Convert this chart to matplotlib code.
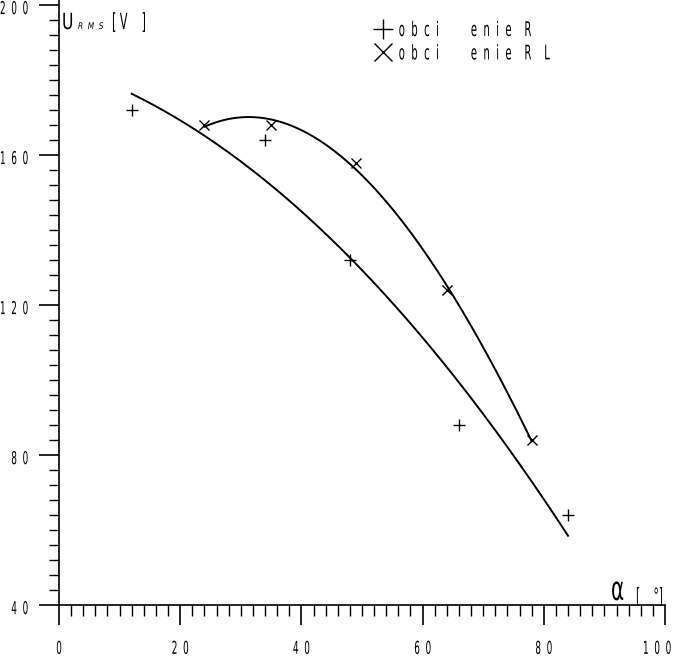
import numpy as np
import matplotlib
matplotlib.use("Agg")
import matplotlib.pyplot as plt
from matplotlib.ticker import FixedLocator, FixedFormatter, MultipleLocator
from matplotlib.patheffects import AbstractPathEffect
from matplotlib.transforms import Affine2D

plt.rcParams['font.family'] = ['DejaVu Sans']

# data
alpha_R = [12, 34, 48, 66, 84]
U_R = [172, 164, 132, 88, 64]
alpha_RL = [24, 35, 49, 64, 78]
U_RL = [168, 168, 158, 124, 84]

xticks = [0, 20, 40, 60, 80, 100]
xtick_labels = ["0", "2  0", "4  0", "6  0", "8  0", "1  0  0"]
yticks = [40, 80, 120, 160, 200]
ytick_labels = ["    4  0", "    8  0", "1  2  0", "1  6  0", "2  0  0"]
label_R = "o  b  c  i          e  n  i  e    R"
label_RL = "o  b  c  i          e  n  i  e    R    L"


class Squeeze(AbstractPathEffect):
    """Draw text condensed horizontally / stretched vertically (plotter-like font)."""
    def __init__(self, sx=1.0, sy=1.0, anchor=None, dx=0.0, dy=0.0, x_target=None):
        super().__init__()
        self.sx, self.sy, self.anchor = sx, sy, anchor
        self.dx, self.dy, self.x_target = dx, dy, x_target

    def draw_path(self, renderer, gc, tpath, affine, rgbFace=None):
        ox, oy = affine.transform(np.array([[0.0, 0.0]]))[0]
        if self.anchor is None:
            x0 = ox
        else:
            ext = tpath.get_extents(affine)
            x0 = ext.x0 + self.anchor * ext.width
        xt = x0 + self.dx if self.x_target is None else self.x_target
        t = affine + Affine2D().translate(-x0, -oy).scale(self.sx, self.sy).translate(xt, oy + self.dy)
        renderer.draw_path(gc, tpath, t, rgbFace)


W, H = 673, 661
fig = plt.figure(figsize=(W / 100, H / 100), dpi=100)
ax = fig.add_axes([59 / W, (H - 605) / H, 606 / W, 605 / H])
ax.set_xlim(0, 100)
ax.set_ylim(40, 40 + 605 / 3.75)

# fitted curves
p_R = np.polyfit(alpha_R, U_R, 2)
xs = np.linspace(min(alpha_R), max(alpha_R), 200)
ax.plot(xs, np.polyval(p_R, xs), color="black", lw=1.4)
p_RL = np.polyfit(alpha_RL, U_RL, 3)
xs2 = np.linspace(min(alpha_RL), max(alpha_RL), 200)
ax.plot(xs2, np.polyval(p_RL, xs2), color="black", lw=1.4)

hR, = ax.plot(alpha_R, U_R, linestyle="none", marker="+", ms=8, mew=1.0, color="black")
hRL, = ax.plot(alpha_RL, U_RL, linestyle="none", marker="x", ms=7.5, mew=1.0, color="black")

for s in ["top", "right"]:
    ax.spines[s].set_visible(False)
for s in ["left", "bottom"]:
    ax.spines[s].set_linewidth(1.2)

TFS = 8          # tick label font size (drawn stretched)
TSY = 1.6
TSX = 0.5 * TSY

ax.xaxis.set_major_locator(FixedLocator(xticks))
ax.xaxis.set_major_formatter(FixedFormatter(xtick_labels))
ax.xaxis.set_minor_locator(MultipleLocator(2))
ax.yaxis.set_major_locator(FixedLocator(yticks))
ax.yaxis.set_major_formatter(FixedFormatter(ytick_labels))
ax.yaxis.set_minor_locator(MultipleLocator(4))
ax.tick_params(axis="x", which="major", direction="out", length=14.4, width=1.2, pad=15, labelsize=TFS)
ax.tick_params(axis="x", which="minor", direction="out", length=7.6, width=1.0)
ax.tick_params(axis="y", which="major", direction="out", length=14.4, width=1.2, pad=28.1, labelsize=TFS)
ax.tick_params(axis="y", which="minor", direction="out", length=7.2, width=1.0)

xt = ax.xaxis.get_major_ticks()
for i, t in enumerate(xt):
    if i == len(xt) - 1:
        t.label1.set_ha("right")
        t.label1.set_path_effects([Squeeze(TSX, TSY, None, x_target=643)])
    else:
        t.label1.set_path_effects([Squeeze(TSX, TSY, 0.5)])
for t in ax.yaxis.get_major_ticks():
    t.label1.set_ha("left")
    t.label1.set_va("top")
    t.label1.set_path_effects([Squeeze(TSX, TSY, None, dy=-1.1)])


def ftext(px, py, s, size, sx, sy=1.0, **kw):
    return fig.text(px / W, 1 - py / H, s, fontsize=size, ha="left", va="baseline",
                    path_effects=[Squeeze(sx, sy, None)], **kw)


# axis titles
ftext(62, 29, "U", 16, 0.7)
ftext(78, 29, "R  M  S", 6.6, 0.8, style="italic")
ftext(112, 29, "[ V    ]", 8, 0.5 * 2, 2.0)
ftext(611, 600, "α", 24, 0.6)
ftext(636, 603, "[    °]", 8, 0.5 * 1.9, 1.9)

LFS = 11
LSY = 14.5 / LFS
leg = ax.legend([hR, hRL], [label_R, label_RL], loc="upper left",
                bbox_to_anchor=(372 / W, 1 - 22 / H), bbox_transform=fig.transFigure,
                frameon=False, markerscale=1.8, handlelength=1.45, handletextpad=0.3,
                labelspacing=0.55, fontsize=LFS, borderpad=0, borderaxespad=0)
for t in leg.get_texts():
    t.set_path_effects([Squeeze(0.5 * LSY, LSY, None, dy=-2)])

fig.savefig("out.png", dpi=100)
